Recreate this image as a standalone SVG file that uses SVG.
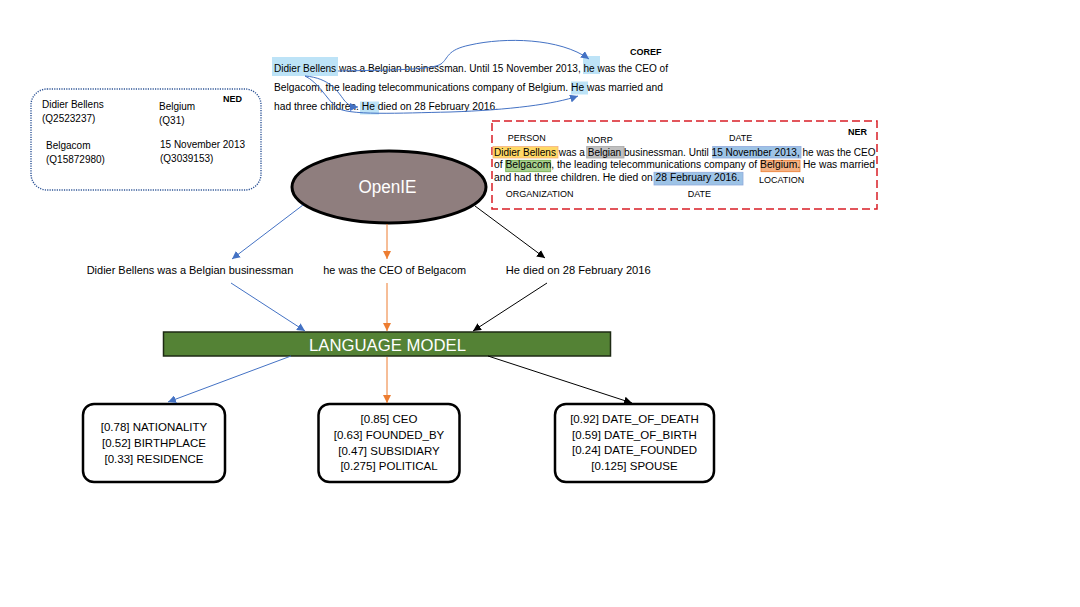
<svg xmlns="http://www.w3.org/2000/svg" width="1080" height="607" viewBox="0 0 1080 607">
<style>
text{font-family:"Liberation Sans",Arial,sans-serif;fill:#000}
.p{font-size:10px}
.lbl{font-size:9px}
.b{font-weight:bold}
.mid{font-size:11px}
.res{font-size:11.5px;text-anchor:middle}
.box{fill:#fff;stroke:#000;stroke-width:2.5}
.cb{fill:none;stroke:#4472C4;stroke-width:1}
.co{fill:none;stroke:#ED7D31;stroke-width:1}
.ck{fill:none;stroke:#000;stroke-width:1}
.hl{fill:#BDE3F7}
</style>
<defs>
<marker id="ab" viewBox="0 0 10 10" refX="10" refY="5" markerWidth="8" markerHeight="8" markerUnits="userSpaceOnUse" orient="auto"><path d="M0,0L10,5L0,10z" fill="#4472C4"/></marker>
<marker id="ao" viewBox="0 0 10 10" refX="10" refY="5" markerWidth="8" markerHeight="8" markerUnits="userSpaceOnUse" orient="auto"><path d="M0,0L10,5L0,10z" fill="#ED7D31"/></marker>
<marker id="ak" viewBox="0 0 10 10" refX="10" refY="5" markerWidth="8" markerHeight="8" markerUnits="userSpaceOnUse" orient="auto"><path d="M0,0L10,5L0,10z" fill="#000"/></marker>
</defs>
<rect width="1080" height="607" fill="#fff"/>

<g id="ned">
<rect x="31" y="89" width="230" height="101" rx="16" fill="none" stroke="#2F5597" stroke-width="1.4" stroke-dasharray="1.2 1.2"/>
<text class="lbl b" x="223" y="102">NED</text>
<text class="p" x="42" y="108">Didier Bellens</text>
<text class="p" x="42" y="122">(Q2523237)</text>
<text class="p" x="159" y="110">Belgium</text>
<text class="p" x="159" y="124">(Q31)</text>
<text class="p" x="46" y="149">Belgacom</text>
<text class="p" x="46" y="163">(Q15872980)</text>
<text class="p" x="160" y="148">15 November 2013</text>
<text class="p" x="160" y="162">(Q3039153)</text>
</g>

<g id="coref">
<rect class="hl" x="272" y="57" width="66" height="19"/>
<rect class="hl" x="583" y="56" width="17" height="18"/>
<rect class="hl" x="571" y="81.5" width="17" height="13"/>
<rect class="hl" x="360" y="101.5" width="19" height="13"/>
<text class="lbl b" x="630" y="55">COREF</text>
<text class="p" x="274" y="71.5" textLength="394" lengthAdjust="spacingAndGlyphs">Didier Bellens was a Belgian businessman. Until 15 November 2013, he was the CEO of</text>
<text class="p" x="274" y="90.5" textLength="389" lengthAdjust="spacingAndGlyphs">Belgacom, the leading telecommunications company of Belgium. He was married and</text>
<text class="p" x="274" y="109.5" textLength="224" lengthAdjust="spacingAndGlyphs">had three children. He died on 28 February 2016.</text>
</g>

<g id="ner">
<rect x="492" y="121" width="385" height="88" fill="none" stroke="#D91E26" stroke-width="1.5" stroke-dasharray="8 4"/>
<rect x="493" y="146.5" width="65" height="11.5" fill="#FFD966" stroke="#F4B183" stroke-width="0.8"/>
<rect x="586.7" y="146.5" width="37.3" height="11.5" fill="#C0C0C0" stroke="#A6A6A6" stroke-width="0.8"/>
<rect x="712.7" y="146.5" width="88.3" height="11.5" fill="#9DC3E6" stroke="#8FAADC" stroke-width="0.8"/>
<rect x="505.7" y="160.3" width="45" height="11.4" fill="#A9D18E" stroke="#70AD47" stroke-width="0.8"/>
<rect x="761" y="160.3" width="39" height="11.4" fill="#F4B183" stroke="#ED7D31" stroke-width="0.8"/>
<rect x="654" y="172.3" width="89" height="12.7" fill="#9DC3E6" stroke="#8FAADC" stroke-width="0.8"/>
<text class="lbl b" x="848" y="135">NER</text>
<text class="lbl" x="507.7" y="141">PERSON</text>
<text class="lbl" x="586.7" y="143">NORP</text>
<text class="lbl" x="729" y="141">DATE</text>
<text class="p" x="494" y="155.7" textLength="381.6" lengthAdjust="spacingAndGlyphs">Didier Bellens was a Belgian businessman. Until 15 November 2013, he was the CEO</text>
<text class="p" x="494" y="168.3" textLength="381" lengthAdjust="spacingAndGlyphs">of Belgacom, the leading telecommunications company of Belgium. He was married</text>
<text class="p" x="494" y="180.7" textLength="246" lengthAdjust="spacingAndGlyphs">and had three children. He died on 28 February 2016.</text>
<text class="lbl" x="759" y="183.3">LOCATION</text>
<text class="lbl" x="505.7" y="196.7">ORGANIZATION</text>
<text class="lbl" x="687.7" y="197">DATE</text>
</g>

<g id="openie">
<ellipse cx="389" cy="187" rx="97" ry="36" fill="#8F7E7E" stroke="#000" stroke-width="3"/>
<text x="387.5" y="193" font-size="18" text-anchor="middle" style="fill:#fff" textLength="58" lengthAdjust="spacingAndGlyphs">OpenIE</text>
</g>

<g id="triple-1"><text class="mid" x="86.7" y="274" textLength="206.6" lengthAdjust="spacingAndGlyphs">Didier Bellens was a Belgian businessman</text></g>
<g id="triple-2"><text class="mid" x="323.3" y="274" textLength="142.7" lengthAdjust="spacingAndGlyphs">he was the CEO of Belgacom</text></g>
<g id="triple-3"><text class="mid" x="505.7" y="274" textLength="145" lengthAdjust="spacingAndGlyphs">He died on 28 February 2016</text></g>

<g id="language-model">
<rect x="163.5" y="332" width="447" height="24" fill="#548235" stroke="#1E2A14" stroke-width="1.5"/>
<text x="387.5" y="350.5" font-size="17" text-anchor="middle" style="fill:#fff" textLength="157" lengthAdjust="spacingAndGlyphs">LANGUAGE MODEL</text>
</g>

<g id="result-1">
<rect class="box" x="83" y="404" width="142" height="78" rx="11"/>
<text class="res" x="154" y="431">[0.78] NATIONALITY</text>
<text class="res" x="154" y="447">[0.52] BIRTHPLACE</text>
<text class="res" x="154" y="463">[0.33] RESIDENCE</text>
</g>
<g id="result-2">
<rect class="box" x="318.5" y="404" width="141" height="78" rx="11"/>
<text class="res" x="389" y="423">[0.85] CEO</text>
<text class="res" x="389" y="439">[0.63] FOUNDED_BY</text>
<text class="res" x="389" y="454.5">[0.47] SUBSIDIARY</text>
<text class="res" x="389" y="470">[0.275] POLITICAL</text>
</g>
<g id="result-3">
<rect class="box" x="555" y="404" width="159" height="78" rx="11"/>
<text class="res" x="634.5" y="423">[0.92] DATE_OF_DEATH</text>
<text class="res" x="634.5" y="438.5">[0.59] DATE_OF_BIRTH</text>
<text class="res" x="634.5" y="454">[0.24] DATE_FOUNDED</text>
<text class="res" x="634.5" y="470">[0.125] SPOUSE</text>
</g>

<g id="connectors">
<path class="cb" d="M338,71 C390,70 432,70 441,64 C449,58 446,50 470,45 C505,37 560,38 589,59" marker-end="url(#ab)"/>
<path class="cb" d="M305,76 C330,78 338,92 344,100 C348,105 352,107 358,107" marker-end="url(#ab)"/>
<path class="cb" d="M305,76 C318,82 326,98 336,107 C346,116 400,113 450,112 C510,110 555,104 578,96" marker-end="url(#ab)"/>
<line class="cb" x1="303" y1="205" x2="232" y2="259" marker-end="url(#ab)"/>
<line class="co" x1="387" y1="224" x2="387" y2="259" marker-end="url(#ao)"/>
<line class="ck" x1="475" y1="206" x2="545" y2="258" marker-end="url(#ak)"/>
<line class="cb" x1="231" y1="283" x2="305" y2="331" marker-end="url(#ab)"/>
<line class="co" x1="387" y1="283" x2="387" y2="331" marker-end="url(#ao)"/>
<line class="ck" x1="547" y1="283" x2="473" y2="331" marker-end="url(#ak)"/>
<line class="cb" x1="291" y1="356" x2="168" y2="402" marker-end="url(#ab)"/>
<line class="co" x1="387" y1="357" x2="387" y2="403" marker-end="url(#ao)"/>
<line class="ck" x1="488" y1="356" x2="632" y2="403" marker-end="url(#ak)"/>
</g>
</svg>
